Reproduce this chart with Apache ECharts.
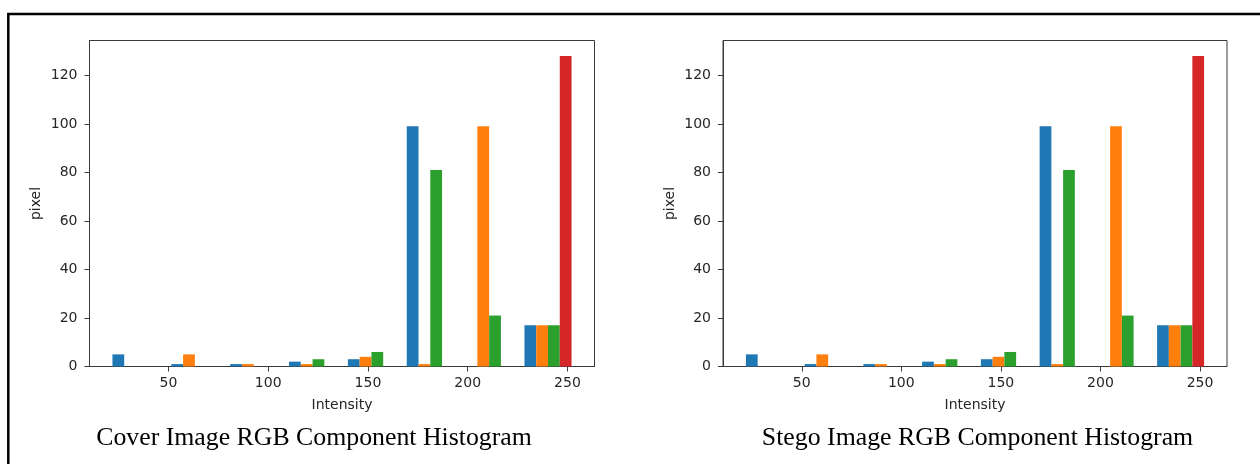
<!DOCTYPE html>
<html>
<head>
<meta charset="utf-8">
<script src="https://cdn.jsdelivr.net/npm/echarts@6/dist/echarts.min.js"></script>
<style>
  html, body { margin: 0; padding: 0; background: #fff; }
  #main { width: 1260px; height: 464px; }
</style>
</head>
<body>
<div id="main"></div>
<script>
// histogram bin edges (intensity) shared by both images
const binEdges = [19, 48.5, 78, 107.5, 137, 166.5, 196, 225.5, 255];
const channelNames = ['Channel 0', 'Channel 1', 'Channel 2', 'Channel 3'];
const channelColors = ['#1f77b4', '#ff7f0e', '#2ca02c', '#d62728'];

// pixel counts per bin, one array per channel
const coverBlue   = [5, 1, 1, 2, 3, 99, 0, 17];
const coverOrange = [0, 5, 1, 1, 4, 1, 99, 17];
const coverGreen  = [0, 0, 0, 3, 6, 81, 21, 17];
const coverRed    = [0, 0, 0, 0, 0, 0, 0, 128];

const stegoBlue   = [5, 1, 1, 2, 3, 99, 0, 17];
const stegoOrange = [0, 5, 1, 1, 4, 1, 99, 17];
const stegoGreen  = [0, 0, 0, 3, 6, 81, 21, 17];
const stegoRed    = [0, 0, 0, 0, 0, 0, 0, 128];

const xTicks = [50, 100, 150, 200, 250];
const yTicks = [0, 20, 40, 60, 80, 100, 120];

const captions = ['Cover Image RGB Component Histogram', 'Stego Image RGB Component Histogram'];

let chart = echarts.init(document.getElementById('main'));

// matplotlib style: 4 bars side by side in 80% of each bin, 5% margins
const nCh = 4;
const barFrac = 0.8 / nCh;
const firstW = binEdges[1] - binEdges[0];
const lastW = binEdges[binEdges.length - 1] - binEdges[binEdges.length - 2];
const dataLo = binEdges[0] + 0.1 * firstW;
const dataHi = binEdges[binEdges.length - 1] - 0.1 * lastW;
const xMin = dataLo - 0.05 * (dataHi - dataLo);
const xMax = dataHi + 0.05 * (dataHi - dataLo);
const yMax = Math.max(...coverRed, ...stegoRed) * 1.05;

function barData(counts, ch) {
    return counts.map(function (v, i) {
        let w = binEdges[i + 1] - binEdges[i];
        let x0 = binEdges[i] + 0.1 * w + ch * barFrac * w;
        return [x0, x0 + barFrac * w, v];
    });
}

function renderBar(params, api) {
    let y = api.value(2);
    if (!y) return;
    let p0 = api.coord([api.value(0), y]);
    let p1 = api.coord([api.value(1), 0]);
    return {
        type: 'rect',
        shape: { x: p0[0], y: p0[1], width: p1[0] - p0[0], height: p1[1] - p0[1] },
        style: { fill: api.visual('color') }
    };
}

const labelFont = { color: '#262626', fontSize: 14, fontFamily: 'DejaVu Sans' };
const spine = '#3a3a3a';

function makeX(idx) {
    return {
        type: 'value', gridIndex: idx, min: xMin, max: xMax,
        name: 'Intensity', nameLocation: 'middle', nameGap: 32,
        nameTextStyle: labelFont,
        axisLine: { show: true, onZero: false, lineStyle: { color: spine, width: 1 } },
        axisTick: { show: true, length: 5, customValues: xTicks, lineStyle: { color: spine } },
        axisLabel: Object.assign({ margin: 10, customValues: xTicks }, labelFont),
        splitLine: { show: false }
    };
}
function makeY(idx) {
    return {
        type: 'value', gridIndex: idx, min: 0, max: yMax,
        name: 'pixel', nameLocation: 'middle', nameGap: 46,
        nameTextStyle: labelFont,
        axisLine: { show: true, lineStyle: { color: spine, width: 1 } },
        axisTick: { show: true, length: 5, customValues: yTicks, lineStyle: { color: spine } },
        axisLabel: Object.assign({ margin: 12, customValues: yTicks }, labelFont),
        splitLine: { show: false }
    };
}

const sets = [
    [coverBlue, coverOrange, coverGreen, coverRed],
    [stegoBlue, stegoOrange, stegoGreen, stegoRed]
];
let series = [];
sets.forEach(function (set, g) {
    set.forEach(function (counts, ch) {
        series.push({
            name: channelNames[ch],
            type: 'custom',
            xAxisIndex: g, yAxisIndex: g,
            renderItem: renderBar,
            encode: { x: [0, 1], y: 2 },
            itemStyle: { color: channelColors[ch] },
            data: barData(counts, ch)
        });
    });
});

option = {
    backgroundColor: '#fff',
    animation: false,
    grid: [
        { left: 89.5, top: 40.5, width: 505, height: 326, show: true, borderColor: spine, borderWidth: 1, backgroundColor: 'transparent' },
        { left: 723, top: 40.5, width: 504, height: 326, show: true, borderColor: spine, borderWidth: 1, backgroundColor: 'transparent' }
    ],
    xAxis: [makeX(0), makeX(1)],
    yAxis: [makeY(0), makeY(1)],
    series: series,
    graphic: [
        {
            type: 'polyline', silent: true,
            shape: { points: [[8.3, 480], [8.3, 14], [1280, 14]] },
            style: { stroke: '#000', lineWidth: 2.5, fill: null }
        },
        {
            type: 'text', x: 314, y: 438,
            style: { text: captions[0], fill: '#000', fontSize: 25.8, fontFamily: 'Liberation Serif', align: 'center', verticalAlign: 'middle' }
        },
        {
            type: 'text', x: 977.5, y: 438,
            style: { text: captions[1], fill: '#000', fontSize: 25.8, fontFamily: 'Liberation Serif', align: 'center', verticalAlign: 'middle' }
        }
    ]
};

chart.setOption(option);

window.onresize = function () {
    chart.resize();
};
</script>
</body>
</html>
